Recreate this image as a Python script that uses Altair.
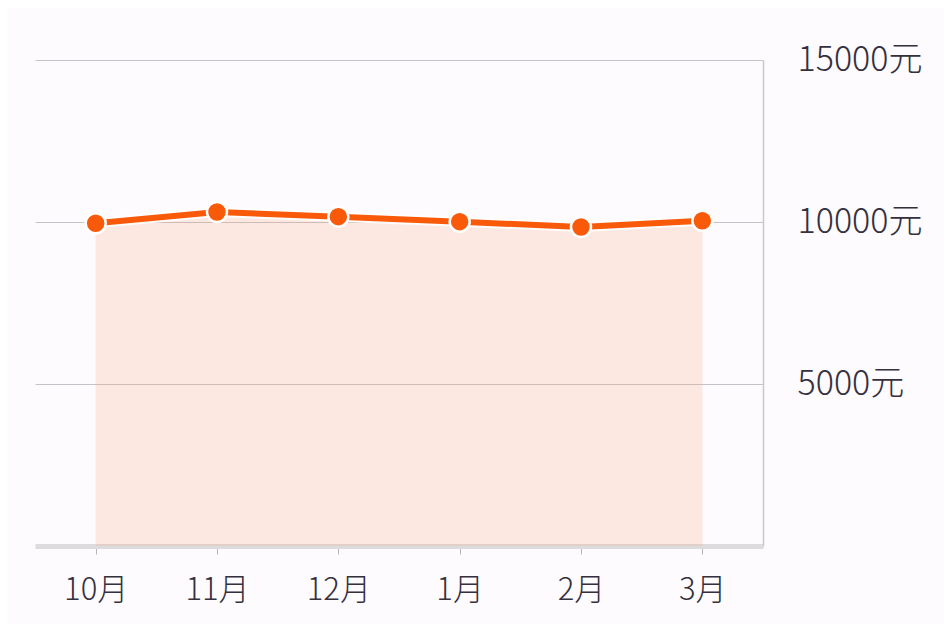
import altair as alt
import pandas as pd

months = ["10月", "11月", "12月", "1月", "2月", "3月"]
prices = [9960, 10310, 10165, 10010, 9845, 10040]
y_ticks = [5000, 10000, 15000]

df = pd.DataFrame({"month": months, "price": prices})

ORANGE = "#f95a0a"
TEXT = "#35303d"
FONT = "Noto Sans CJK SC"

x = alt.X(
    "month:N", sort=months,
    scale=alt.Scale(type="point", padding=0.5),
    axis=alt.Axis(title=None, labelAngle=0, labelFont=FONT, labelFontSize=31,
                  labelFontWeight=300, labelColor=TEXT, labelPadding=21,
                  tickSize=8, tickColor="#b4b4b8", tickWidth=1,
                  domainColor="#dcdcdf", domainWidth=5, grid=False),
)
y = alt.Y(
    "price:Q",
    scale=alt.Scale(domain=[0, 15000], nice=False, zero=True),
    axis=alt.Axis(orient="right", values=y_ticks, title=None,
                  labelExpr="datum.value + '元'", labelFont=FONT, labelFontSize=34,
                  labelFontWeight=300, labelColor=TEXT, labelPadding=34,
                  labelAlign="left", labelBaseline="middle", tickSize=0, grid=True,
                  gridColor="#c4c4c8", gridWidth=1, domainColor="#c8c8cc",
                  domainWidth=1.5),
)

base = alt.Chart(df)
area = base.mark_area(color="#f9a070", opacity=0.2).encode(x=x, y=y)
halo = base.mark_line(color="white", strokeWidth=10, opacity=0.9).encode(x=x, y=y)
line = base.mark_line(color=ORANGE, strokeWidth=6).encode(x=x, y=y)
pts = base.mark_circle(size=400, color=ORANGE, opacity=1, stroke="white",
                       strokeWidth=2.5).encode(x=x, y=y)

chart = alt.layer(area, halo, line, pts).properties(
    width=728, height=486,
    autosize=alt.AutoSizeParams(type="none"),
    padding={"left": 27, "top": 52, "right": 181, "bottom": 78},
    background="#fdfbfd",
).configure_view(stroke=None)

chart.save("out.html", embed_options={"renderer": "svg", "actions": False})
